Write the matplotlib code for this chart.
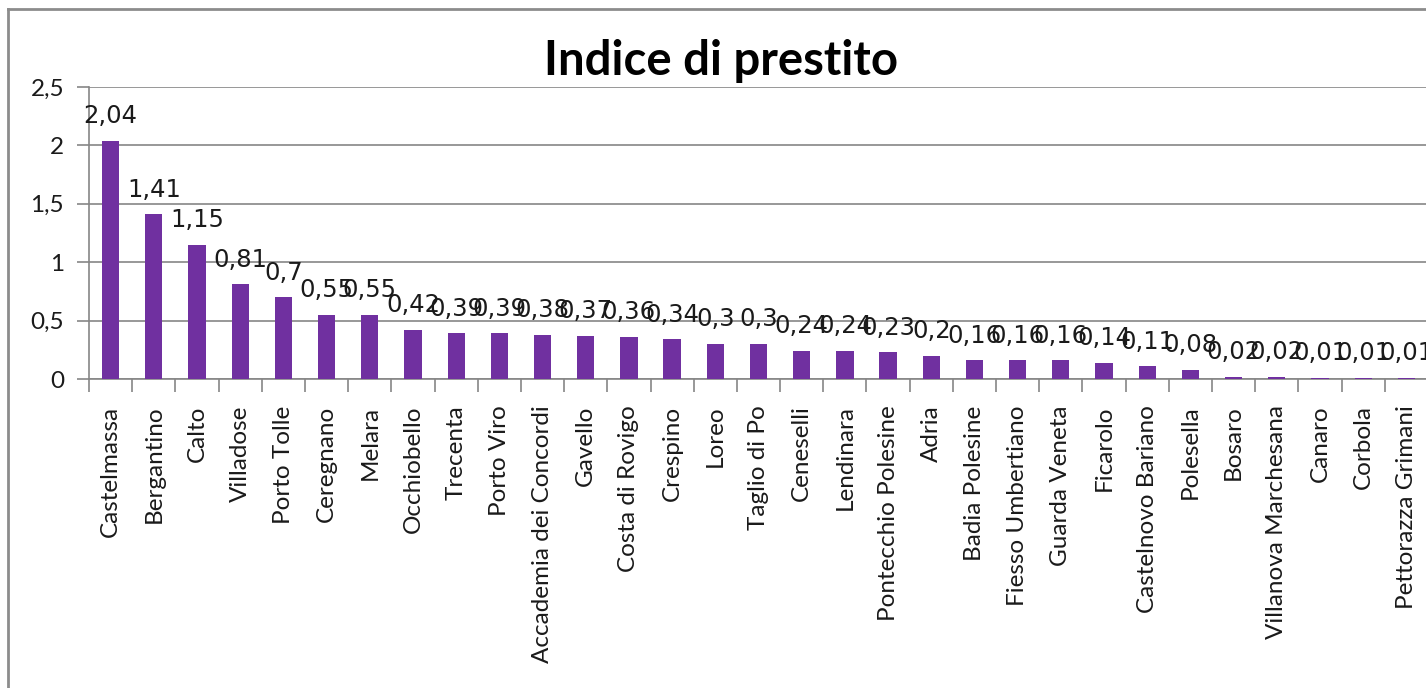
"""
Indice di prestito — bar chart of the loan index per municipality.
"""

import matplotlib
matplotlib.use("Agg")
import matplotlib.pyplot as plt
from matplotlib.lines import Line2D
from matplotlib.ticker import FixedLocator, FuncFormatter

comuni = [
    "Castelmassa", "Bergantino", "Calto", "Villadose", "Porto Tolle",
    "Ceregnano", "Melara", "Occhiobello", "Trecenta", "Porto Viro",
    "Accademia dei Concordi", "Gavello", "Costa di Rovigo", "Crespino",
    "Loreo", "Taglio di Po", "Ceneselli", "Lendinara", "Pontecchio Polesine",
    "Adria", "Badia Polesine", "Fiesso Umbertiano", "Guarda Veneta",
    "Ficarolo", "Castelnovo Bariano", "Polesella", "Bosaro",
    "Villanova Marchesana", "Canaro", "Corbola", "Pettorazza Grimani",
]
indice = [
    2.04, 1.41, 1.15, 0.81, 0.7, 0.55, 0.55, 0.42, 0.39, 0.39,
    0.38, 0.37, 0.36, 0.34, 0.3, 0.3, 0.24, 0.24, 0.23, 0.2,
    0.16, 0.16, 0.16, 0.14, 0.11, 0.08, 0.02, 0.02, 0.01, 0.01, 0.01,
]
y_ticks = [0, 0.5, 1, 1.5, 2, 2.5]

BAR = "#7030A0"
GRID = "#868686"
W, H = 1426, 688


def it_num(v):
    # Excel "General" format with Italian decimal comma
    s = f"{v:.2f}".rstrip("0").rstrip(".")
    return s.replace(".", ",")


fig = plt.figure(figsize=(W / 100, H / 100), dpi=100)
ax = fig.add_axes([89 / W, (H - 379) / H, 1339 / W, 292 / H])

x = list(range(len(comuni)))
ax.bar(x, indice, width=0.4, color=BAR, zorder=3)

for xi, v in zip(x, indice):
    ax.annotate(it_num(v), (xi, v), xytext=(0, 9), textcoords="offset points",
                ha="center", va="bottom", fontsize=17.5, family="DejaVu Sans",
                color="#1a1a1a", zorder=4)

ax.set_xlim(-0.5, len(comuni) - 0.5)
ax.set_ylim(0, 2.5)
ax.set_yticks(y_ticks)
ax.yaxis.set_major_formatter(FuncFormatter(lambda v, _: it_num(v)))
ax.grid(axis="y", color=GRID, linewidth=1.2, zorder=0)

ax.set_xticks(x)
ax.set_xticklabels(comuni, rotation=90, ha="center", va="top")
ax.xaxis.set_minor_locator(FixedLocator([i - 0.5 for i in range(len(comuni) + 1)]))
ax.tick_params(axis="x", which="major", length=0, pad=19, labelsize=17.5)
ax.tick_params(axis="x", which="minor", length=9, color=GRID, width=1.2)
ax.tick_params(axis="y", length=9, color=GRID, width=1.2, labelsize=17.5, pad=9)
for lab in ax.get_xticklabels() + ax.get_yticklabels():
    lab.set_family("Lato")
    lab.set_color("#1a1a1a")

for side in ("top", "right"):
    ax.spines[side].set_visible(False)
for side in ("left", "bottom"):
    ax.spines[side].set_color(GRID)
    ax.spines[side].set_linewidth(1.2)

fig.text(721 / W, 1 - 61 / H, "Indice di prestito", ha="center", va="center",
         fontsize=34, fontweight="bold", family="Lato", color="black")

# chart frame (only the top and left edges fall inside the picture)
fig.add_artist(Line2D([8 / W, 1.0], [1 - 9 / H, 1 - 9 / H],
                      transform=fig.transFigure, color="#8c8c8c", linewidth=2))
fig.add_artist(Line2D([8 / W, 8 / W], [0, 1 - 9 / H],
                      transform=fig.transFigure, color="#8c8c8c", linewidth=2))

fig.savefig("out.png", dpi=100)
